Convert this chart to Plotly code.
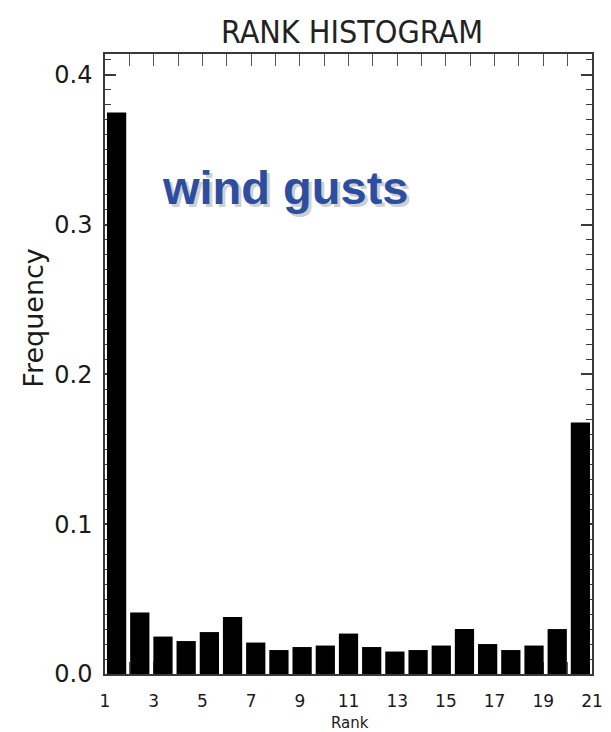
import plotly.graph_objects as go

# Rank histogram: relative frequency of the observation's rank among ensemble members
ranks = list(range(1, 22))
frequency = [0.375, 0.041, 0.025, 0.022, 0.028, 0.038, 0.021, 0.016, 0.018, 0.019,
             0.027, 0.018, 0.015, 0.016, 0.019, 0.030, 0.020, 0.016, 0.019, 0.030,
             0.168]
x_tick_values = [1, 3, 5, 7, 9, 11, 13, 15, 17, 19, 21]
y_tick_values = [0.0, 0.1, 0.2, 0.3, 0.4]

x_min, x_max = 1, 21
y_min, y_max = 0.0, 0.414

# the 21 rank bins are spread evenly across the 1..21 axis
n_bins = len(ranks)
bin_w = (x_max - x_min) / n_bins
centers = [x_min + (r - 0.5) * bin_w for r in ranks]

axis_col = "#3a3a3a"
tick_font = "DejaVu Sans, Verdana, sans-serif"
text_col = "#1a1a1a"

fig = go.Figure()
fig.add_trace(go.Bar(
    x=centers, y=frequency, width=[bin_w * 0.83] * n_bins,
    marker=dict(color="black", line=dict(width=0)),
    hoverinfo="skip",
))

fig.update_layout(
    width=611, height=732,
    margin=dict(l=105, r=8, t=54, b=58),
    paper_bgcolor="white", plot_bgcolor="white",
    showlegend=False,
    title=dict(
        text="RANK HISTOGRAM",
        font=dict(family="DejaVu Sans Condensed, DejaVu Sans, sans-serif", size=32,
                  color="#222"),
        xref="container", yref="container", x=352 / 611, y=1 - 32 / 732,
        xanchor="center", yanchor="middle",
    ),
)

fig.update_xaxes(
    range=[x_min, x_max], tickmode="array", tickvals=x_tick_values,
    ticktext=[str(v) for v in x_tick_values],
    ticks="inside", ticklen=12, tickwidth=1, tickcolor="#555",
    showline=True, linecolor=axis_col, linewidth=1.5, mirror="ticks",
    showgrid=False, zeroline=False, layer="below traces",
    tickfont=dict(family=tick_font, size=17, color=text_col),
    ticklabelstandoff=11, ticklabeloverflow="allow",
    minor=dict(tickmode="linear", tick0=1, dtick=1, ticks="inside", ticklen=12,
               tickwidth=1, tickcolor="#555", showgrid=False),
)
fig.update_yaxes(
    range=[y_min, y_max], tickmode="array", tickvals=y_tick_values,
    ticktext=[f"{v:.1f}" for v in y_tick_values],
    ticks="inside", ticklen=11, tickwidth=1.5, tickcolor=axis_col,
    showline=True, linecolor=axis_col, linewidth=1.5, mirror="ticks",
    showgrid=False, zeroline=False, layer="below traces",
    tickfont=dict(family=tick_font, size=24, color=text_col),
    ticklabelstandoff=6, ticklabeloverflow="allow",
    minor=dict(tickmode="linear", tick0=0, dtick=0.01, ticks="inside", ticklen=6,
               tickwidth=1.2, tickcolor=axis_col, showgrid=False),
)

plot_w = 611 - 105 - 8
plot_h = 732 - 54 - 58

# axis titles
fig.add_annotation(
    text="Frequency", textangle=-90, showarrow=False,
    xref="paper", yref="paper", x=(31 - 105) / plot_w, y=(674 - 318) / plot_h,
    xanchor="center", yanchor="middle",
    font=dict(family=tick_font, size=27, color=text_col),
)
fig.add_annotation(
    text="Rank", showarrow=False,
    xref="paper", yref="paper", x=(356 - 105) / plot_w, y=(674 - 723) / plot_h,
    xanchor="center", yanchor="middle",
    font=dict(family=tick_font, size=15, color=text_col),
)

# "wind gusts" label with a soft drop shadow
label_x = x_min + (289 - 105) / (plot_w / (x_max - x_min))
label_y = (674 - 187) / (plot_h / (y_max - y_min))
for dx, dy, col in [(3, 3, "#cfcfcf"), (0, 0, "#2d4e9e")]:
    fig.add_annotation(
        text="<b>wind gusts</b>", showarrow=False,
        x=label_x, y=label_y, xshift=dx, yshift=-dy,
        xanchor="center", yanchor="middle",
        font=dict(family="Liberation Sans, Arial, sans-serif", size=47, color=col),
    )

fig.write_html("out.html")
